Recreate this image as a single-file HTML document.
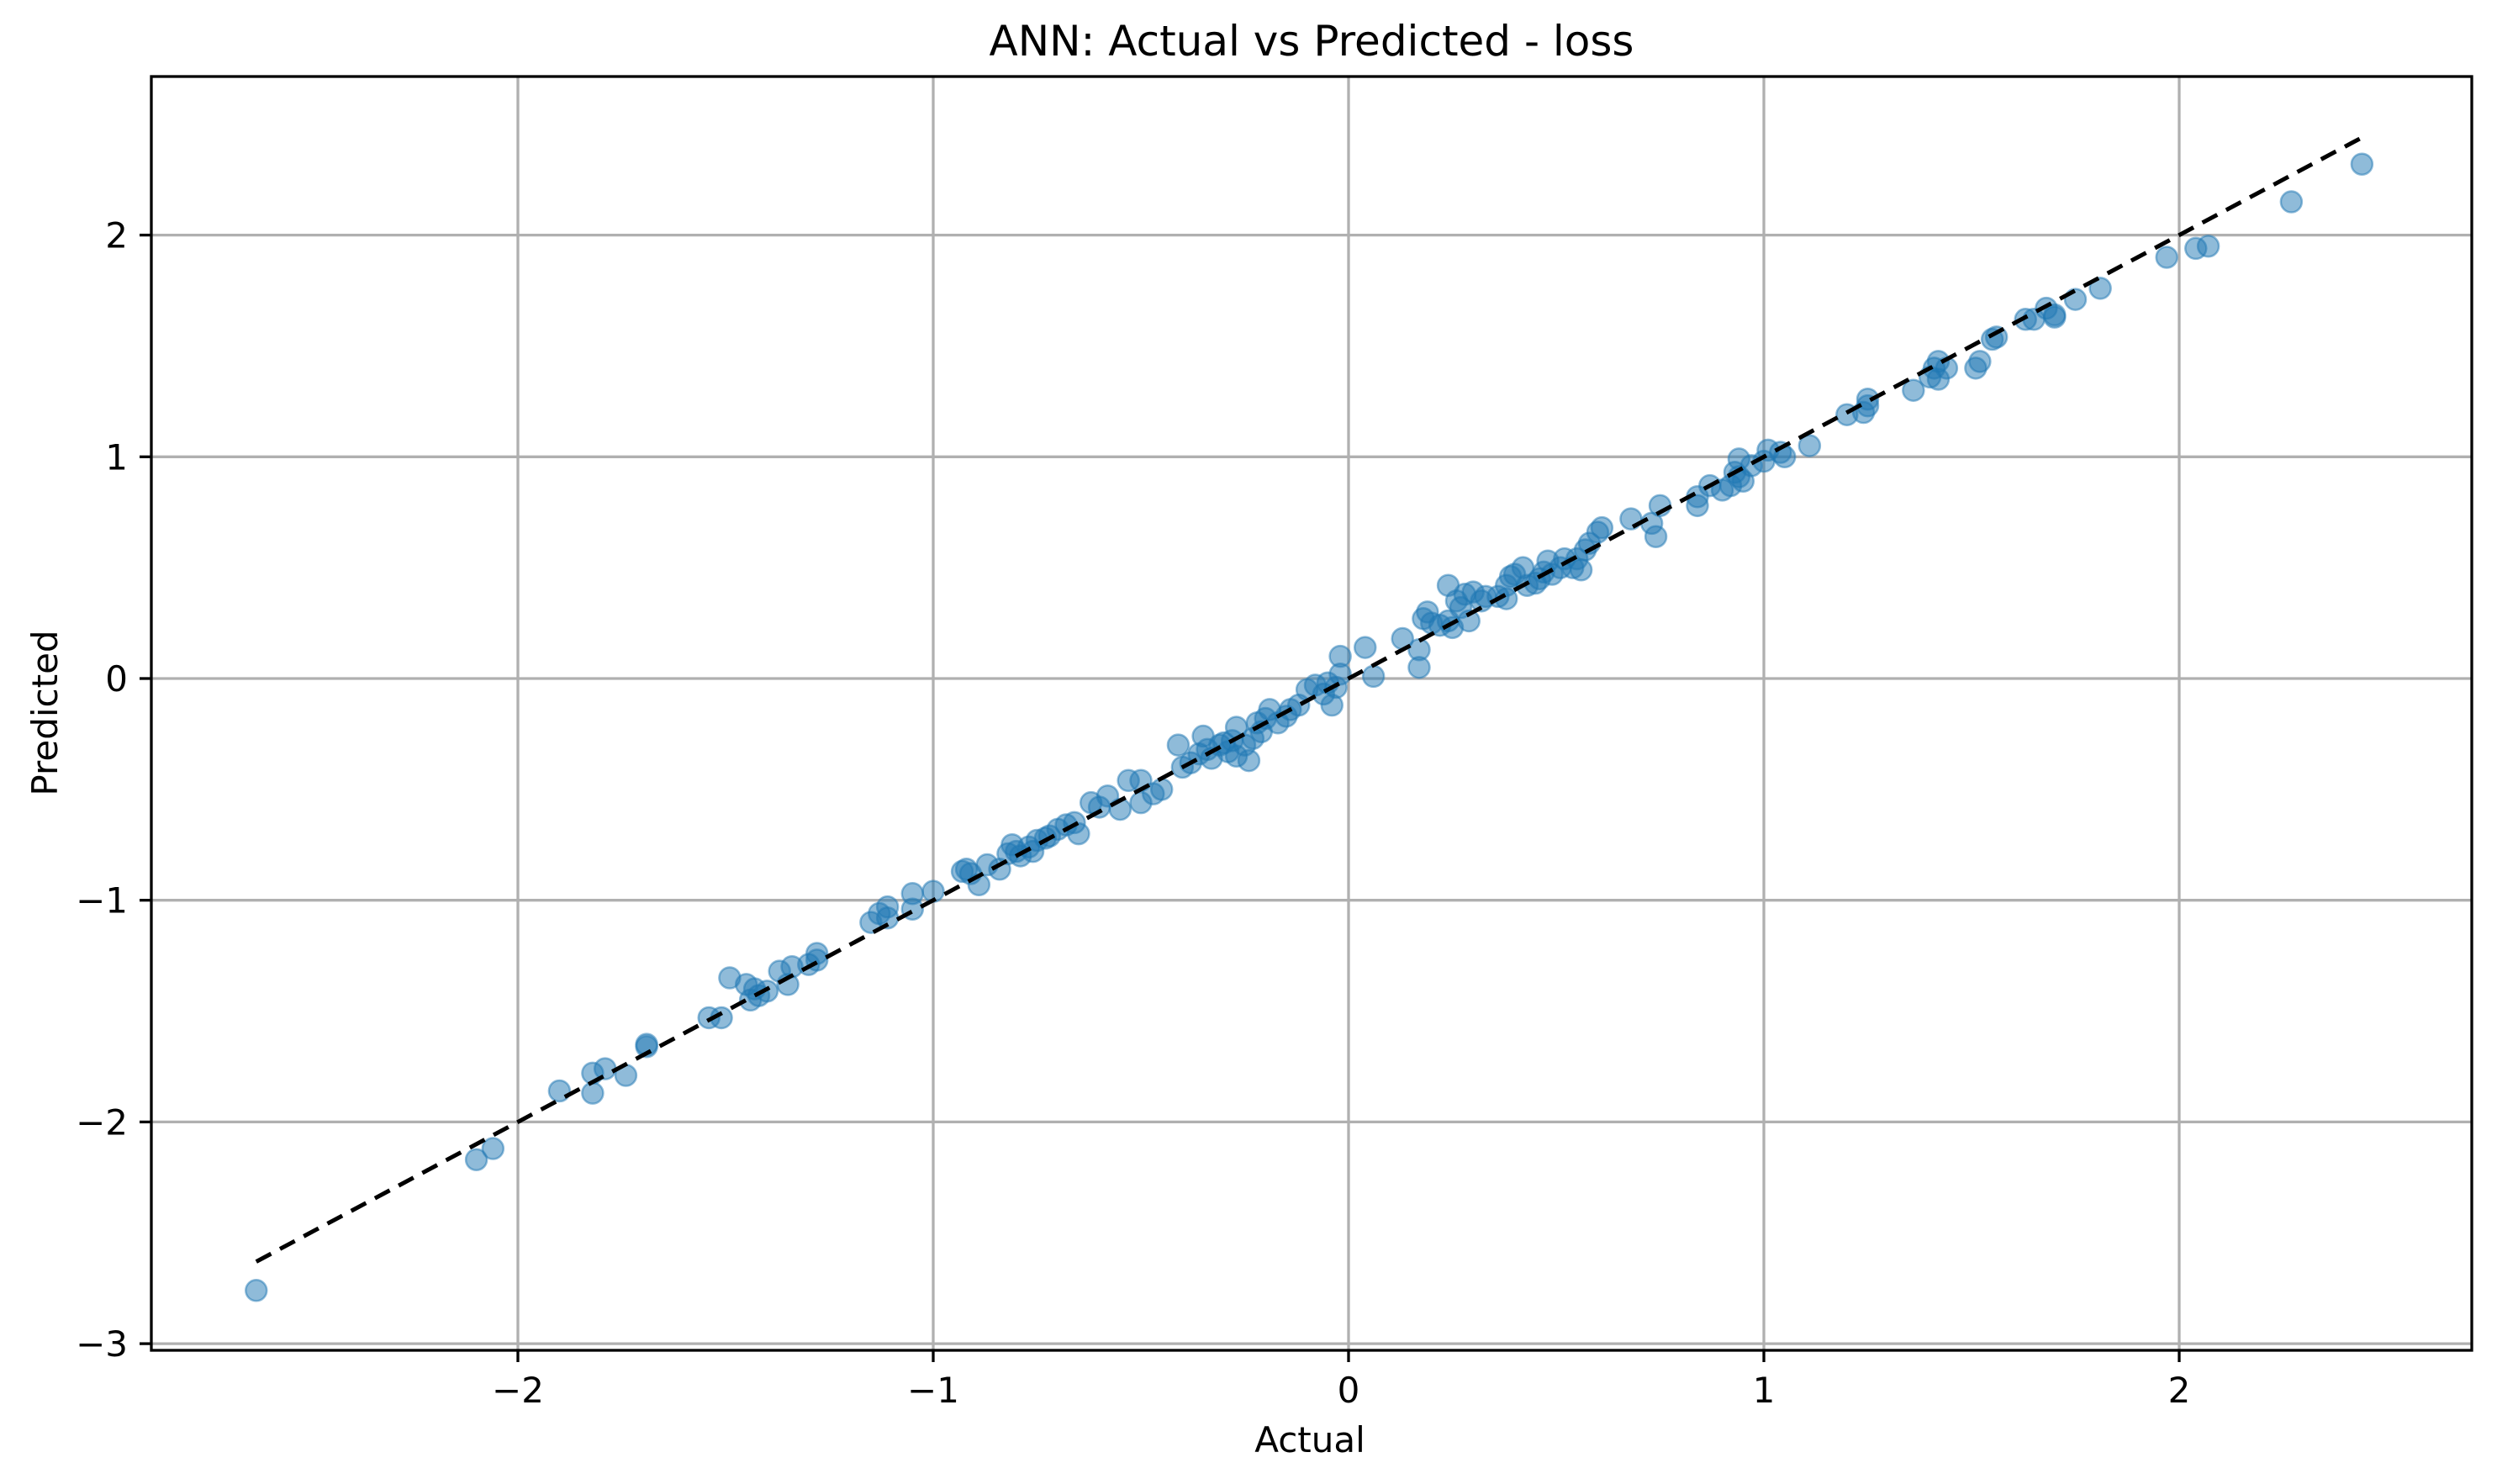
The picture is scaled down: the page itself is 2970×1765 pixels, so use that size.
<!DOCTYPE html>
<html><head><meta charset="utf-8"><style>
html,body{margin:0;padding:0;background:#fff;}
svg{display:block;font-family:"DejaVu Sans","Liberation Sans",sans-serif;}
</style></head><body>
<svg id="chart" width="2970" height="1765" viewBox="0 0 2970 1765" xmlns="http://www.w3.org/2000/svg">
<rect width="2970" height="1765" fill="#fff"/>
<g id="grid"></g>
<g id="marks"></g>
<g id="ideal"></g>
<rect x="180" y="91" width="2760" height="1515" fill="none" stroke="#000" stroke-width="3.3"/>
<g id="ticks"></g>
<text x="1560" y="66" font-size="50" text-anchor="middle">ANN: Actual vs Predicted - loss</text>
<text x="1558" y="1727" font-size="42" text-anchor="middle">Actual</text>
<text x="68" y="848" font-size="42" text-anchor="middle" transform="rotate(-90 68 848)">Predicted</text>
</svg>
<script>
const actual = [-2.63,-2.10,-2.06,-1.90,-1.82,-1.82,-1.79,-1.74,-1.69,-1.69,-1.54,-1.51,-1.49,-1.45,-1.44,-1.43,-1.42,-1.40,-1.37,-1.35,-1.34,-1.30,-1.28,-1.28,-1.15,-1.13,-1.11,-1.11,-1.05,-1.05,-1.00,-0.93,-0.92,-0.91,-0.89,-0.87,-0.84,-0.82,-0.81,-0.80,-0.79,-0.77,-0.76,-0.75,-0.73,-0.72,-0.70,-0.68,-0.66,-0.65,-0.62,-0.60,-0.58,-0.55,-0.53,-0.50,-0.50,-0.47,-0.45,-0.41,-0.40,-0.38,-0.36,-0.35,-0.34,-0.33,-0.31,-0.30,-0.29,-0.28,-0.27,-0.27,-0.25,-0.24,-0.23,-0.22,-0.21,-0.20,-0.19,-0.17,-0.15,-0.14,-0.12,-0.10,-0.08,-0.06,-0.05,-0.04,-0.03,-0.02,-0.02,0.04,0.06,0.13,0.17,0.17,0.18,0.19,0.20,0.22,0.24,0.24,0.25,0.26,0.27,0.28,0.29,0.30,0.32,0.33,0.36,0.38,0.38,0.39,0.40,0.42,0.43,0.45,0.46,0.47,0.48,0.49,0.51,0.52,0.54,0.55,0.56,0.57,0.58,0.60,0.61,0.68,0.73,0.74,0.75,0.84,0.84,0.87,0.90,0.92,0.93,0.94,0.94,0.95,0.97,1.00,1.01,1.04,1.05,1.11,1.20,1.24,1.25,1.25,1.36,1.40,1.41,1.42,1.42,1.44,1.51,1.52,1.55,1.56,1.63,1.65,1.68,1.70,1.70,1.75,1.81,1.97,2.04,2.07,2.27,2.44];
const predicted = [-2.76,-2.17,-2.12,-1.86,-1.78,-1.87,-1.76,-1.79,-1.65,-1.66,-1.53,-1.53,-1.35,-1.38,-1.45,-1.40,-1.43,-1.41,-1.32,-1.38,-1.30,-1.29,-1.24,-1.27,-1.10,-1.06,-1.03,-1.08,-0.97,-1.04,-0.96,-0.87,-0.86,-0.88,-0.93,-0.84,-0.86,-0.79,-0.75,-0.78,-0.80,-0.76,-0.78,-0.73,-0.72,-0.71,-0.68,-0.66,-0.65,-0.70,-0.56,-0.58,-0.53,-0.59,-0.46,-0.46,-0.56,-0.52,-0.50,-0.30,-0.40,-0.38,-0.34,-0.26,-0.32,-0.36,-0.30,-0.29,-0.33,-0.28,-0.22,-0.35,-0.30,-0.37,-0.27,-0.20,-0.24,-0.18,-0.14,-0.20,-0.17,-0.14,-0.12,-0.05,-0.03,-0.07,-0.02,-0.12,-0.04,0.02,0.10,0.14,0.01,0.18,0.05,0.13,0.27,0.30,0.25,0.24,0.26,0.42,0.23,0.35,0.32,0.38,0.26,0.39,0.35,0.37,0.37,0.36,0.42,0.46,0.47,0.50,0.42,0.43,0.45,0.48,0.53,0.47,0.50,0.54,0.50,0.54,0.49,0.58,0.61,0.66,0.68,0.72,0.70,0.64,0.78,0.78,0.82,0.87,0.85,0.87,0.93,0.99,0.91,0.89,0.96,0.98,1.03,1.02,1.00,1.05,1.19,1.20,1.23,1.26,1.30,1.36,1.40,1.35,1.43,1.40,1.40,1.43,1.53,1.54,1.62,1.62,1.67,1.63,1.64,1.71,1.76,1.90,1.94,1.95,2.15,2.32];
const xTicks = [-2,-1,0,1,2];
const yTicks = [-3,-2,-1,0,1,2];

const NS = "http://www.w3.org/2000/svg";
const X = v => 1604 + 494 * v;
const Y = v => 807 - 263.7 * v;
function mk(tag, attrs, parent){const e=document.createElementNS(NS,tag);for(const k in attrs)e.setAttribute(k,attrs[k]);parent.appendChild(e);return e;}
const grid=document.getElementById('grid'), ticks=document.getElementById('ticks'), marks=document.getElementById('marks'), ideal=document.getElementById('ideal');
const fmt = v => v<0 ? '\u2212'+Math.abs(v) : String(v);
xTicks.forEach(t=>{
  const g=mk('line',{x1:X(t),x2:X(t),y1:91,y2:1606,stroke:'#b0b0b0','stroke-width':3.3},grid);
  
  
  const tk=mk('line',{x1:X(t),x2:X(t),y1:1606,y2:1620,stroke:'#000','stroke-width':3.3},ticks);
  
  
  const lb=mk('text',{x:X(t),y:1668,'font-size':42,'text-anchor':'middle'},ticks);
  lb.textContent=fmt(t);
  
  
});
yTicks.forEach(t=>{
  const g=mk('line',{x1:180,x2:2940,y1:Y(t),y2:Y(t),stroke:'#b0b0b0','stroke-width':3.3},grid);
  
  
  const tk=mk('line',{x1:166,x2:180,y1:Y(t),y2:Y(t),stroke:'#000','stroke-width':3.3},ticks);
  
  
  const lb=mk('text',{x:152,y:Y(t)+15,'font-size':42,'text-anchor':'end'},ticks);
  lb.textContent=fmt(t);
  
  
});
actual.forEach((a,i)=>{
  const c=mk('circle',{cx:X(a),cy:Y(predicted[i]),r:12.5,fill:'#1f77b4','fill-opacity':0.5,stroke:'#1f77b4','stroke-opacity':0.5,'stroke-width':2.5},marks);
  
  
});
const lo=Math.min(...actual), hi=Math.max(...actual);
const l=mk('line',{x1:X(lo),y1:Y(lo),x2:X(hi),y2:Y(hi),stroke:'#000','stroke-width':5,'stroke-dasharray':'20 12'},ideal);


</script>
</body></html>
